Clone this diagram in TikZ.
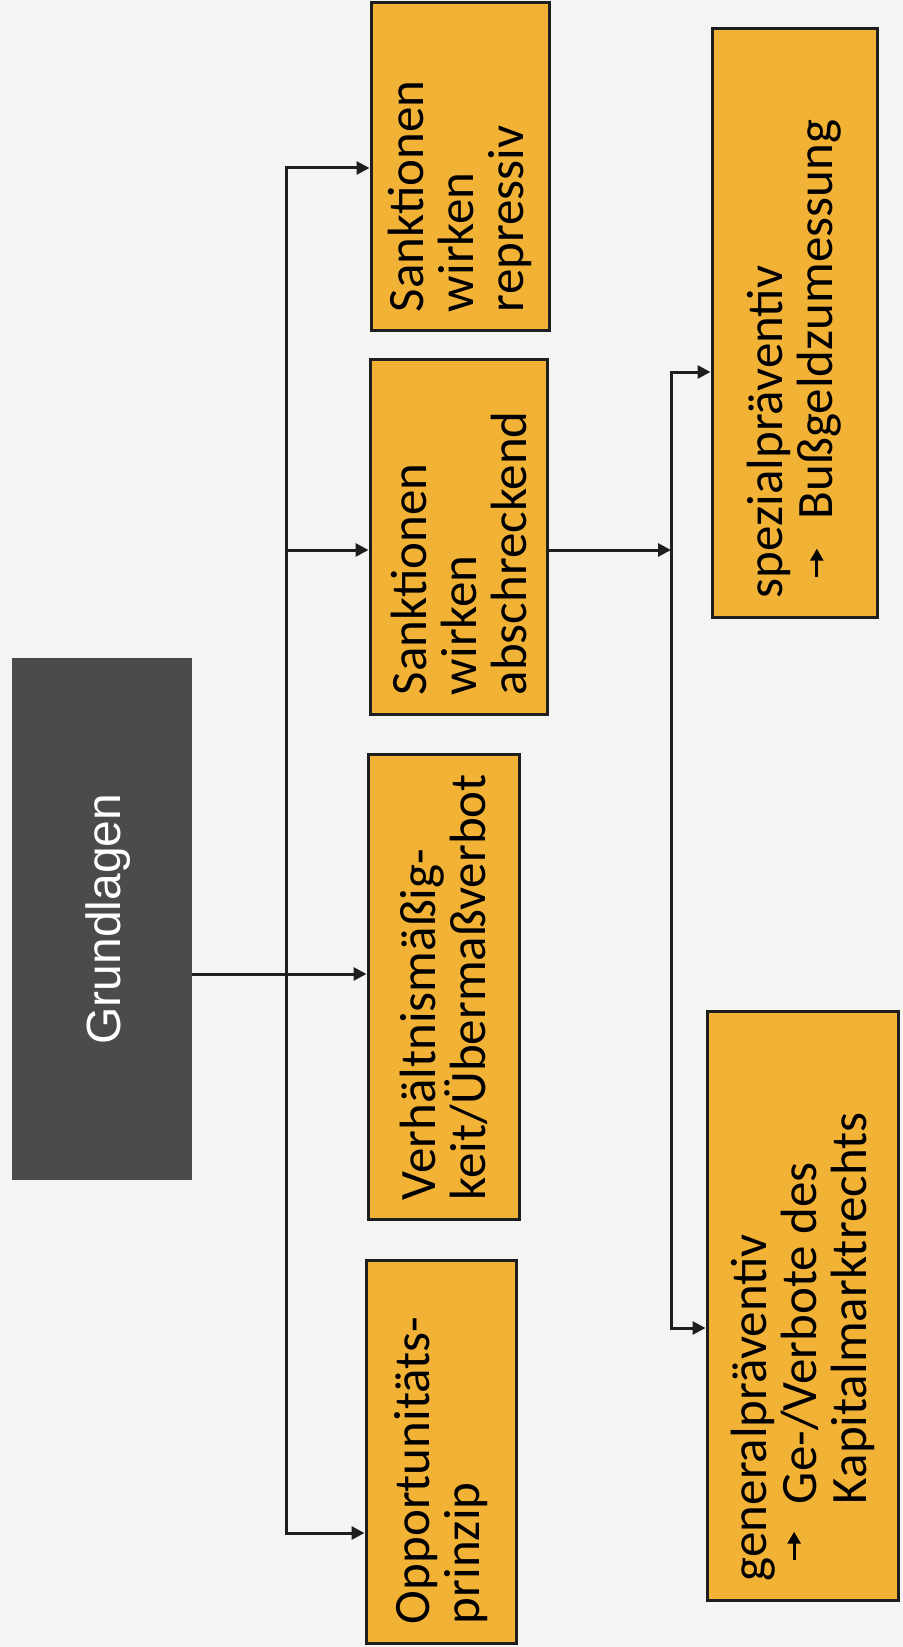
\documentclass[tikz,border=0pt]{standalone}
\usepackage{fontspec}
\newfontfamily\carl{Carlito}
\newfontfamily\arialf{Liberation Sans}
\usetikzlibrary{arrows.meta}
\definecolor{paper}{HTML}{F4F4F2}
\definecolor{orangec}{HTML}{F2B235}
\definecolor{darkbox}{HTML}{4B4B4B}
\definecolor{linec}{HTML}{1E1E1E}
\newcommand{\bularrow}[1]{\raisebox{#1}{\tikz[baseline=0pt]\draw[line width=1.4pt,-{Triangle[length=6pt,width=6.5pt]}] (0pt,0pt)--(14pt,0pt);}}
\begin{document}
\begin{tikzpicture}[x=0.5pt,y=-0.5pt,
  obox/.style={draw=linec,line width=1.5pt,fill=orangec,inner sep=0pt},
  otext/.style={rotate=90,anchor=west,inner sep=0pt,align=left,font=\carl\fontsize{25.5pt}{25pt}\selectfont,text=black},
  gtext/.style={rotate=90,inner sep=0pt,text=white,font=\arialf\fontsize{24pt}{28pt}\selectfont},
  arr/.style={draw=linec,line width=1.5pt,-{Triangle[length=6.5pt,width=6.5pt]}},
  conn/.style={draw=linec,line width=1.5pt}]
\fill[paper] (0,0) rectangle (903,1647);
\useasboundingbox (0,0) rectangle (903,1647);

% boxes
\node[fill=darkbox,inner sep=0pt,minimum width=90pt,minimum height=261pt] (grund) at (102,919) {};
\node[gtext] (grundt) at ([xshift=3pt]grund.center) {Grundlagen};

\node[obox,minimum width=89pt,minimum height=164pt] (rep) at (460,167) {};
\node[obox,minimum width=88.5pt,minimum height=177.5pt] (absch) at (458.5,536.5) {};
\node[obox,minimum width=75.5pt,minimum height=232.5pt] (verh) at (443.5,986.5) {};
\node[obox,minimum width=75pt,minimum height=191.5pt] (opp) at (441,1451.5) {};
\node[obox,minimum width=82.5pt,minimum height=294pt] (spez) at (794.5,323) {};
\node[obox,minimum width=95.5pt,minimum height=294.5pt] (gen) at (802.5,1305.5) {};

% texts
\node[otext] (rept) at ([yshift=10pt]rep.south) {Sanktionen\\wirken\\repressiv};
\node[otext] (abscht) at ([yshift=10pt]absch.south) {Sanktionen\\wirken\\abschreckend};
\node[otext] (verht) at ([yshift=10pt]verh.south) {Verhältnismäßig-\\keit/Übermaßverbot};
\node[otext] (oppt) at ([yshift=10pt]opp.south) {Opportunitäts-\\prinzip};
\node[otext] (spezt) at ([yshift=10pt]spez.south) {spezialpräventiv\\\makebox[39.5pt][l]{\hspace*{10pt}\bularrow{8pt}}Bußgeldzumessung};
\node[otext] (gent) at ([yshift=10pt]gen.south) {generalpräventiv\\\makebox[38.5pt][l]{\hspace*{10pt}\bularrow{11pt}}Ge-/Verbote des\\\hspace*{38.5pt}Kapitalmarktrechts};

% connectors
\coordinate (b0) at (286,168);
\coordinate (b1) at (286,550);
\coordinate (b2) at (286,974);
\coordinate (b4) at (286,1533);
\draw[arr] (b1) -- (b0) -- (b0 -| rep.west);
\draw[arr] (b1) -- (b4) -- (b4 -| opp.west);
\draw[arr] (b1) -- (b1 -| absch.west);
\draw[arr] (b2 -| grund.east) -- (b2 -| verh.west);

\coordinate (c0) at (671,372);
\coordinate (c1) at (671,550);
\coordinate (c2) at (671,1328);
\draw[arr] (c1 -| absch.east) -- (c1);
\draw[arr] (c1) -- (c0) -- (c0 -| spez.west);
\draw[arr] (c1) -- (c2) -- (c2 -| gen.west);
\end{tikzpicture}
\end{document}
